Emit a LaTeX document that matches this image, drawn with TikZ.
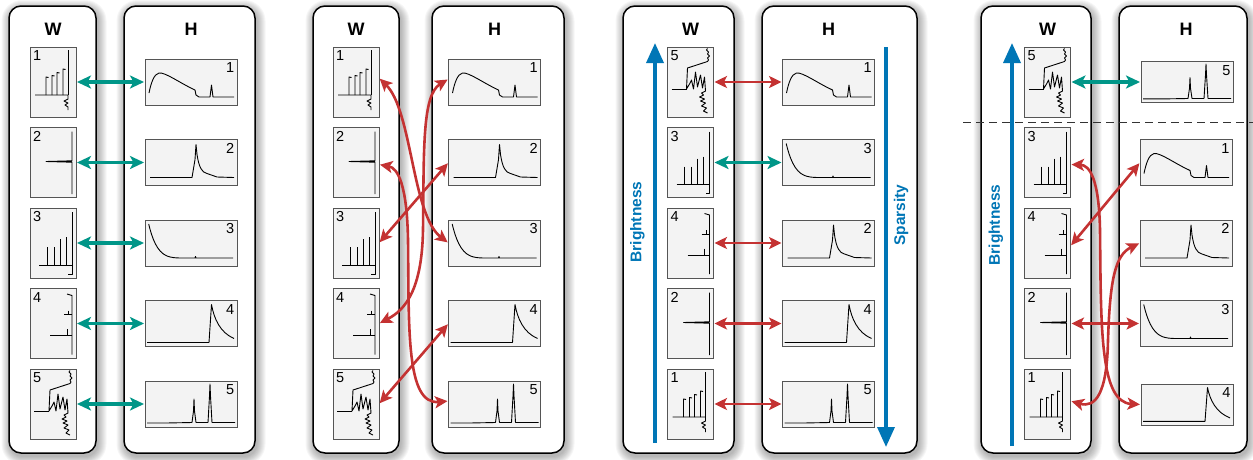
\documentclass[tikz,border=0pt]{standalone}
\usepackage{fontspec}
\setmainfont{Liberation Sans}
\usetikzlibrary{arrows.meta}
\definecolor{tealc}{RGB}{0,150,136}
\definecolor{redc}{RGB}{196,50,50}
\definecolor{bluec}{RGB}{0,118,182}
\definecolor{thumbfill}{RGB}{243,243,243}
\definecolor{thumbdraw}{RGB}{85,85,85}
\tikzset{
  spec/.style={draw=black, line width=0.9pt, line join=round},
  wthumb/.style={draw=thumbdraw, fill=thumbfill, line width=1pt, minimum width=46pt, minimum height=70pt, inner sep=0pt, outer sep=0pt},
  hthumb/.style={draw=thumbdraw, fill=thumbfill, line width=1pt, minimum width=92pt, minimum height=46pt, inner sep=0pt, outer sep=0pt},
  num/.style={inner sep=0pt, font=\fontsize{14.5}{14.5}\selectfont},
  collabel/.style={font=\bfseries\fontsize{18}{20}\selectfont, inner sep=0pt},
  colbox/.style={draw=black, fill=white, line width=1.5pt, rounded corners=12pt, inner sep=0pt},
  tealarr/.style={draw=tealc, line width=3.2pt, arrows={Stealth[length=14pt,width=13pt,inset=3.5pt]-Stealth[length=14pt,width=13pt,inset=3.5pt]}, shorten <=1pt, shorten >=1pt},
  redarr/.style={draw=redc, line width=2.6pt, arrows={Stealth[length=12.5pt,width=12pt,inset=3pt]-Stealth[length=12.5pt,width=12pt,inset=3pt]}, shorten <=1pt, shorten >=1pt},
  bluearr/.style={draw=bluec, line width=3.4pt, -{Triangle[length=20pt,width=17pt]}},
  bluetext/.style={text=bluec, font=\bfseries\fontsize{15.5}{15.5}\selectfont, inner sep=0pt},
  cutline/.style={draw=black!80, line width=1pt, dash pattern=on 8pt off 5pt},
  wspec1/.pic={
    \draw[spec] (38,3) -- (38,48);
    \draw[spec] (5,48) -- (38,48) -- (38,52) -- (34,54) -- (38,56) -- (35,58) -- (38,60) -- (38,63);
    \foreach \x/\t in {16/30, 22/28.5, 27/25.5, 33/22} \draw[spec] (\x+2.5,\t+0.5) -- (\x,\t) -- (\x,48);
  },
  wspec2/.pic={
    \draw[spec] (42,4) -- (42,33.3) -- (16,34) -- (42,34.7) -- (42,66.5);
  },
  wspec3/.pic={
    \draw[spec] (42,4) -- (42,66) -- (38,66);
    \draw[spec] (9,57) -- (42,57);
    \foreach \x/\t in {17/39, 24/39, 30/31, 36/29} \draw[spec] (\x,\t) -- (\x,57);
  },
  wspec4/.pic={
    \draw[spec] (37,5.5) -- (42,7) -- (42,66);
    \draw[spec] (34,26) -- (42,26);
    \draw[spec] (38.5,22) -- (38.5,26);
    \draw[spec] (20,47) -- (42,47);
    \draw[spec] (37,40.5) -- (37,47);
  },
  wspec5/.pic={
    \draw[spec] (40,1.5) -- (39,3) -- (41,5) -- (40,7) -- (42,9) -- (40,11) -- (41,13) -- (40,14.5) -- (20,21) -- (19,42) -- (22,37) -- (24,33) -- (26,42) -- (28,25) -- (30,40) -- (33,28) -- (35,41) -- (37,30) -- (38,44) -- (34,46) -- (36,48) -- (32,50) -- (37,52) -- (33,54) -- (38,56) -- (34,59) -- (39,61) -- (36,64) -- (40,66);
    \draw[spec, line width=1.5pt] (4,42.5) -- (19,42.5);
  },
  hspec1/.pic={
    \draw[spec] (4,34) .. controls (6,24) and (9,15) .. (14,14) .. controls (20,13) and (35,24) .. (48,30) -- (50,31) -- (51,36) -- (54,38) -- (65,38) -- (66.5,26) -- (68,38) -- (89,38);
  },
  hspec2/.pic={
    \draw[spec] (5,38) -- (47,38) -- (50,20) -- (51,5) -- (52,15) .. controls (54,28) and (57,33) .. (62,34) -- (72,37.5) -- (89,38);
  },
  hspec3/.pic={
    \draw[spec] (3.7,4) .. controls (7,18) and (12,32) .. (22,36) .. controls (26,37.5) and (30,38) .. (36,38) -- (50,38) -- (50.5,36.5) -- (51,38) -- (88,38);
  },
  hspec4/.pic={
    \draw[spec] (2,42) -- (64,42) -- (66.5,4) .. controls (69,18) and (75,32) .. (89,38);
  },
  hspec5/.pic={
    \draw[spec] (2,42) -- (21,42) -- (47,41.5) -- (48.5,30) -- (49,18) -- (49.5,30) -- (51,41.5) -- (63,41.5) -- (64.5,15) -- (65,3) -- (65.5,15) -- (67,41.5) -- (90,41.5);
  },
}
\newcommand{\WT}[4]{%
  \node[wthumb] (#1) at (#2,#3) {};
  \pic at (#1.north west) {wspec#4};
  \node[num, anchor=north west] (#1-n) at ([shift={(3,3.5)}]#1.north west) {#4};
}
\newcommand{\HT}[5]{%
  \node[hthumb, minimum height=#5pt] (#1) at (#2,#3) {};
  \pic[yscale=#5/46] at (#1.north west) {hspec#4};
  \node[num, anchor=north east] (#1-n) at ([shift={(-2.5,3.5)}]#1.north east) {#4};
}
\newcommand{\CB}[5]{%
  \foreach \s in {1,...,9}{%
    \fill[black, opacity=0.035, rounded corners={(12+\s)*1pt}] (#2-\s+1.5,#3-\s+3) rectangle (#4+\s+1.5,#5+\s+3);
  }
  \node[colbox, minimum width={(#4-#2)*1pt}, minimum height={(#5-#3)*1pt}] (#1) at ({(#2+#4)/2},{(#3+#5)/2}) {};
}
\begin{document}
\begin{tikzpicture}[x=1pt,y=-1pt]
\useasboundingbox (0,0) rectangle (1253,459);
% ---------- column boxes
\CB{p1W}{9}{6}{96}{453}
\CB{p1H}{124}{6}{255}{453}
\CB{p2W}{313}{6}{399}{453}
\CB{p2H}{432}{6}{564}{453}
\CB{p3W}{623}{6}{734}{453}
\CB{p3H}{762}{6}{917}{453}
\CB{p4W}{981}{6}{1091}{453}
\CB{p4H}{1119}{6}{1247}{453}
% ---------- column labels
\node[collabel] (p1Wl) at (53,29) {W};
\node[collabel] (p1Hl) at (191,29) {H};
\node[collabel] (p2Wl) at (356,29) {W};
\node[collabel] (p2Hl) at (494.5,29) {H};
\node[collabel] (p3Wl) at (690.5,29) {W};
\node[collabel] (p3Hl) at (828.5,29) {H};
\node[collabel] (p4Wl) at (1047.5,29) {W};
\node[collabel] (p4Hl) at (1186,29) {H};
% ---------- panel 1
\WT{p1w1}{53}{82}{1}
\WT{p1w2}{53}{162.5}{2}
\WT{p1w3}{53}{243}{3}
\WT{p1w4}{53}{323.5}{4}
\WT{p1w5}{53}{404}{5}
\HT{p1h1}{191}{82}{1}{46}
\HT{p1h2}{191}{162.5}{2}{46}
\HT{p1h3}{191}{243}{3}{46}
\HT{p1h4}{191}{323.5}{4}{46}
\HT{p1h5}{191}{404}{5}{46}
\foreach \i in {1,...,5} \draw[tealarr] (p1w\i.east) -- (p1h\i.west);
% ---------- panel 2
\WT{p2w1}{356}{82}{1}
\WT{p2w2}{356}{162.5}{2}
\WT{p2w3}{356}{243}{3}
\WT{p2w4}{356}{323.5}{4}
\WT{p2w5}{356}{404}{5}
\HT{p2h1}{494.5}{82}{1}{46}
\HT{p2h2}{494.5}{162.5}{2}{46}
\HT{p2h3}{494.5}{243}{3}{46}
\HT{p2h4}{494.5}{323.5}{4}{46}
\HT{p2h5}{494.5}{404}{5}{46}
\draw[redarr] ([yshift=4pt]p2w1.east) .. controls (412,110) and (412,215) .. (p2h3.west);
\draw[redarr] ([yshift=-2pt]p2w2.east) .. controls (398,168) and (407,185) .. (408,240) .. controls (409,330) and (406,405) .. ([yshift=3pt]p2h5.west);
\draw[redarr] (p2w3.east) -- (p2h2.west);
\draw[redarr] (p2w4.east) .. controls (405,310) and (422,290) .. (423,230) .. controls (424,150) and (422,95) .. ([yshift=3pt]p2h1.west);
\draw[redarr] (p2w5.east) -- (p2h4.west);
% ---------- panel 3
\WT{p3w5}{690.5}{82}{5}
\WT{p3w3}{690.5}{162.5}{3}
\WT{p3w4}{690.5}{243}{4}
\WT{p3w2}{690.5}{323.5}{2}
\WT{p3w1}{690.5}{404}{1}
\HT{p3h1}{828.5}{82}{1}{46}
\HT{p3h3}{828.5}{162.5}{3}{46}
\HT{p3h2}{828.5}{243}{2}{46}
\HT{p3h4}{828.5}{323.5}{4}{46}
\HT{p3h5}{828.5}{404}{5}{46}
\draw[redarr] (p3w5.east) -- (p3h1.west);
\draw[tealarr] (p3w3.east) -- (p3h3.west);
\draw[redarr] (p3w4.east) -- (p3h2.west);
\draw[redarr] (p3w2.east) -- (p3h4.west);
\draw[redarr] (p3w1.east) -- (p3h5.west);
\coordinate (p3b0) at (655,443);
\coordinate (p3b1) at (655,43);
\draw[bluearr] (p3b0) -- (p3b1);
\node[bluetext, rotate=90] (p3bt) at (637.5,222) {Brightness};
\coordinate (p3s0) at (886,47);
\coordinate (p3s1) at (886,447);
\draw[bluearr] (p3s0) -- (p3s1);
\node[bluetext, rotate=90] (p3st) at (901,215) {Sparsity};
% ---------- panel 4
\WT{p4w5}{1047.5}{82}{5}
\WT{p4w3}{1047.5}{162.5}{3}
\WT{p4w4}{1047.5}{243}{4}
\WT{p4w2}{1047.5}{323.5}{2}
\WT{p4w1}{1047.5}{404}{1}
\HT{p4h5}{1187}{82}{5}{41}
\HT{p4h1}{1186}{162.5}{1}{46}
\HT{p4h2}{1186}{243}{2}{46}
\HT{p4h3}{1186}{323.5}{3}{46}
\HT{p4h4}{1187}{404.5}{4}{41}
\draw[tealarr] (p4w5.east) -- (p4h5.west);
\draw[redarr] ([yshift=-2pt]p4w3.east) .. controls (1090,165) and (1099,180) .. (1100,230) .. controls (1101,330) and (1100,402) .. (p4h4.west);
\draw[redarr] ([yshift=-3pt]p4w4.east) -- (p4h1.west);
\draw[redarr] (p4w2.east) -- (p4h3.west);
\draw[redarr] ([yshift=3pt]p4w1.east) .. controls (1095,408) and (1107,395) .. (1108,340) .. controls (1110,280) and (1115,255) .. (p4h2.west);
\coordinate (p4b0) at (1012,446);
\coordinate (p4b1) at (1012,43);
\draw[bluearr] (p4b0) -- (p4b1);
\node[bluetext, rotate=90] (p4bt) at (996,225) {Brightness};
\coordinate (p4d0) at (963,122);
\coordinate (p4d1) at (1253,122);
\draw[cutline] (p4d0) -- (p4d1);
\end{tikzpicture}
\end{document}
